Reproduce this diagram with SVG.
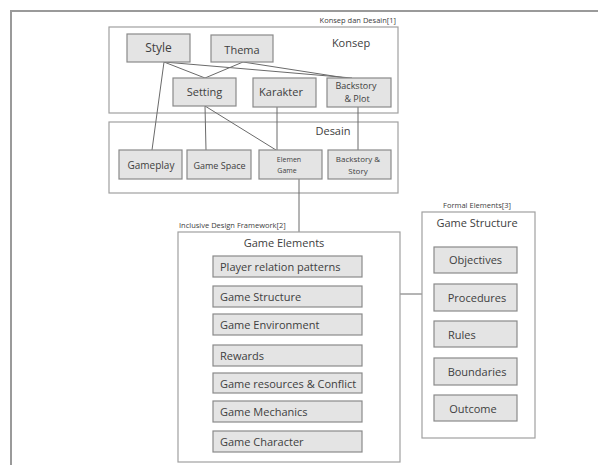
<svg xmlns="http://www.w3.org/2000/svg" width="598" height="465" viewBox="0 0 598 465">
<style>
text{font-family:"Open Sans","Liberation Sans",sans-serif;fill:#404040}
.frame{fill:none;stroke:#9a9a9a;stroke-width:2}
.cont{fill:#fff;stroke:#a0a0a0;stroke-width:1.2}
.box{fill:#e4e4e4;stroke:#8a8a8a;stroke-width:1.2}
.ln{stroke:#6a6a6a;stroke-width:1;fill:none}
.lbl{font-size:7.5px}
.t12{font-size:12px}
.t11{font-size:11px}
.t10{font-size:10px}
.t9{font-size:9px}
.t8{font-size:8px}
.t7{font-size:7px}
.m{text-anchor:middle}
</style>
<rect width="598" height="465" fill="#fff"/>
<path class="frame" d="M11,466 V11 H600"/>

<g id="konsep-desain">
<rect class="cont" x="109" y="27" width="289" height="86"/>
<text class="lbl" x="396" y="23" text-anchor="end">Konsep dan Desain[1]</text>
<text class="t11 m" x="351" y="47">Konsep</text>
</g>
<g id="desain">
<rect class="cont" x="109" y="122" width="289" height="71"/>
<text class="t11 m" x="333" y="135">Desain</text>
</g>

<g id="connectors">
<line class="ln" x1="164" y1="62" x2="205" y2="78"/>
<line class="ln" x1="164" y1="62" x2="352" y2="78"/>
<line class="ln" x1="243" y1="62" x2="205" y2="78"/>
<line class="ln" x1="243" y1="62" x2="346" y2="78"/>
<line class="ln" x1="164" y1="62" x2="152" y2="150"/>
<line class="ln" x1="205" y1="106" x2="206" y2="150"/>
<line class="ln" x1="205" y1="106" x2="276" y2="150"/>
<line class="ln" x1="277" y1="107" x2="277" y2="150"/>
<line class="ln" x1="358" y1="107" x2="358" y2="150"/>
<line class="ln" x1="299" y1="179" x2="299" y2="232"/>
<line class="ln" x1="360" y1="294" x2="422" y2="294"/>
</g>

<g id="style"><rect class="box" x="127" y="34" width="63" height="28"/><text class="t12 m" x="158.5" y="52">Style</text></g>
<g id="thema"><rect class="box" x="211" y="35" width="62" height="27"/><text class="t11 m" x="242" y="54">Thema</text></g>
<g id="setting"><rect class="box" x="173" y="78" width="63" height="28"/><text class="t11 m" x="204.5" y="96">Setting</text></g>
<g id="karakter"><rect class="box" x="253" y="78" width="63" height="29"/><text class="t11 m" x="281" y="96">Karakter</text></g>
<g id="backstory-plot"><rect class="box" x="327" y="78" width="64" height="29"/><text class="t9 m" x="356" y="89">Backstory</text><text class="t9 m" x="357" y="102">&amp; Plot</text></g>

<g id="gameplay"><rect class="box" x="119" y="150" width="63" height="29"/><text class="t10 m" x="151" y="169">Gameplay</text></g>
<g id="game-space"><rect class="box" x="187" y="150" width="64" height="29"/><text class="t9 m" x="219.5" y="169">Game Space</text></g>
<g id="elemen-game"><rect class="box" x="259" y="150" width="63" height="29"/><text class="t7 m" x="289" y="162">Elemen</text><text class="t7 m" x="287" y="173">Game</text></g>
<g id="backstory-story"><rect class="box" x="328" y="150" width="63" height="29"/><text class="t8 m" x="358" y="162">Backstory &amp;</text><text class="t8 m" x="358" y="174">Story</text></g>

<g id="game-elements">
<rect class="cont" x="178" y="232" width="222" height="230"/>
<text class="lbl" x="179" y="228">Inclusive Design Framework[2]</text>
<text class="t11 m" x="284" y="247">Game Elements</text>
</g>
<g id="player-relation"><rect class="box" x="213" y="256" width="149" height="21"/><text class="t11" x="220" y="271">Player relation patterns</text></g>
<g id="ge-game-structure"><rect class="box" x="213" y="286" width="149" height="21"/><text class="t11" x="220" y="301">Game Structure</text></g>
<g id="game-environment"><rect class="box" x="213" y="314" width="149" height="21"/><text class="t11" x="220" y="329">Game Environment</text></g>
<g id="rewards"><rect class="box" x="213" y="345" width="149" height="21"/><text class="t11" x="220" y="360">Rewards</text></g>
<g id="game-resources"><rect class="box" x="213" y="373" width="149" height="20"/><svg x="213" y="373" width="148" height="20" overflow="hidden"><text class="t11" x="7" y="14.5">Game resources &amp; Conflict</text></svg></g>
<g id="game-mechanics"><rect class="box" x="213" y="401" width="149" height="21"/><text class="t11" x="220" y="416">Game Mechanics</text></g>
<g id="game-character"><rect class="box" x="213" y="431" width="149" height="21"/><text class="t11" x="220" y="446">Game Character</text></g>

<g id="fe-game-structure">
<rect class="cont" x="422" y="212" width="113" height="226"/>
<text class="lbl" x="477" y="208" text-anchor="middle">Formal Elements[3]</text>
<text class="t11 m" x="477" y="227">Game Structure</text>
</g>
<g id="objectives"><rect class="box" x="434" y="247" width="83" height="26"/><text class="t11 m" x="475.5" y="264">Objectives</text></g>
<g id="procedures"><rect class="box" x="434" y="284" width="83" height="27"/><text class="t11 m" x="477" y="302">Procedures</text></g>
<g id="rules"><rect class="box" x="434" y="321" width="83" height="26"/><text class="t11" x="448" y="339">Rules</text></g>
<g id="boundaries"><rect class="box" x="434" y="358" width="83" height="27"/><text class="t11 m" x="477" y="376">Boundaries</text></g>
<g id="outcome"><rect class="box" x="434" y="395" width="83" height="26"/><text class="t11 m" x="473" y="413">Outcome</text></g>
</svg>
